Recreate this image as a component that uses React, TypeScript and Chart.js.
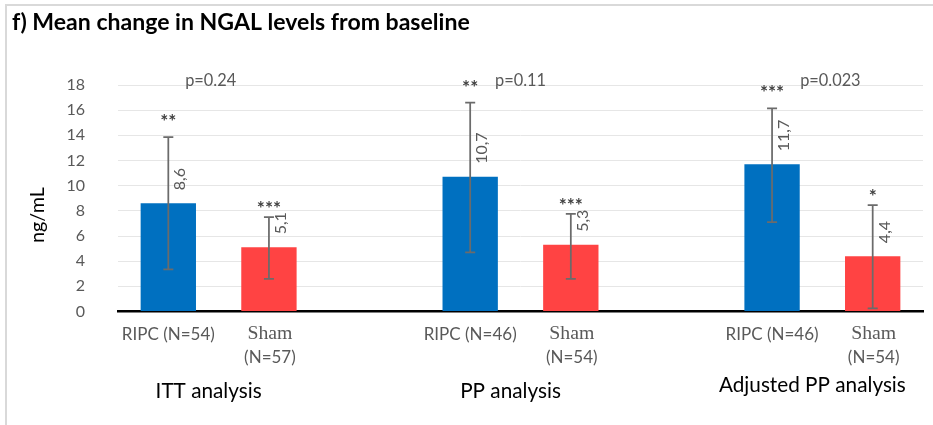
import React, { useEffect, useRef } from "react";
import { Chart, registerables } from "chart.js";

Chart.register(...registerables);

// ---------- data ----------
const titleText = "f) Mean change in NGAL levels from baseline";
const yAxisTitle = "ng/mL";
const groups = ["ITT analysis", "PP analysis", "Adjusted PP analysis"];
const armNames = ["RIPC", "Sham"];
const ripcN = [54, 46, 46];
const shamN = [57, 54, 54];
const ripcMeans = [8.6, 10.7, 11.7];
const shamMeans = [5.1, 5.3, 4.4];
const ripcErrLow = [3.35, 4.7, 7.1];
const ripcErrHigh = [13.85, 16.6, 16.15];
const shamErrLow = [2.6, 2.6, 0.25];
const shamErrHigh = [7.5, 7.75, 8.45];
const ripcStars = ["**", "**", "***"];
const shamStars = ["***", "***", "*"];
const pValues = ["p=0.24", "p=0.11", "p=0.023"];
const yMin = 0;
const yMax = 18;
const yStep = 2;

// ---------- styles ----------
const BLUE = "#0070C0";
const RED = "#FF4343";
const GRAY = "#595959";
const SANS = "Lato, 'Open Sans', sans-serif";
const SERIF = "'Liberation Serif', 'DejaVu Serif', serif";

type Slot = { label: string; value: number | null; lo: number | null; hi: number | null; star: string; arm: number; group: number; n: number };

function buildSlots(): Slot[] {
  const slots: Slot[] = [];
  groups.forEach((_, g) => {
    slots.push({ label: armNames[0] + g, value: ripcMeans[g], lo: ripcErrLow[g], hi: ripcErrHigh[g], star: ripcStars[g], arm: 0, group: g, n: ripcN[g] });
    slots.push({ label: armNames[1] + g, value: shamMeans[g], lo: shamErrLow[g], hi: shamErrHigh[g], star: shamStars[g], arm: 1, group: g, n: shamN[g] });
    if (g < groups.length - 1) slots.push({ label: "gap" + g, value: null, lo: null, hi: null, star: "", arm: -1, group: g, n: 0 });
  });
  return slots;
}

function fitSize(ctx: CanvasRenderingContext2D, text: string, weight: string, family: string, target: number): number {
  ctx.font = `${weight} 20px ${family}`;
  const w = ctx.measureText(text).width;
  return (20 * target) / w;
}

export default function App() {
  const ref = useRef<HTMLCanvasElement | null>(null);

  useEffect(() => {
    const canvas = ref.current;
    if (!canvas) return;
    const slots = buildSlots();

    const overlay = {
      id: "overlay",
      beforeDraw(chart: any) {
        const ctx: CanvasRenderingContext2D = chart.ctx;
        ctx.save();
        ctx.fillStyle = "#ffffff";
        ctx.fillRect(0, 0, chart.width, chart.height);
        ctx.strokeStyle = "#d9d9d9";
        ctx.lineWidth = 2;
        ctx.beginPath();
        ctx.moveTo(6, chart.height);
        ctx.lineTo(6, 5);
        ctx.lineTo(chart.width, 5);
        ctx.stroke();
        ctx.restore();
      },
      afterDatasetsDraw(chart: any) {
        const ctx: CanvasRenderingContext2D = chart.ctx;
        const ys = chart.scales.y;
        const meta = chart.getDatasetMeta(0);
        ctx.save();
        slots.forEach((s, i) => {
          if (s.value == null) return;
          const bar = meta.data[i];
          const x = bar.x;
          const yHi = ys.getPixelForValue(s.hi as number);
          const yLo = ys.getPixelForValue(s.lo as number);
          // error bar
          ctx.strokeStyle = "#6b6b6b";
          ctx.lineWidth = 1.75;
          ctx.beginPath();
          ctx.moveTo(x, yHi);
          ctx.lineTo(x, yLo);
          ctx.moveTo(x - 5, yHi);
          ctx.lineTo(x + 5, yHi);
          ctx.moveTo(x - 5, yLo);
          ctx.lineTo(x + 5, yLo);
          ctx.stroke();
          // value label, rotated
          const yTop = ys.getPixelForValue(s.value);
          ctx.save();
          ctx.translate(x + 12, yTop - 13);
          ctx.rotate(-Math.PI / 2);
          ctx.fillStyle = GRAY;
          ctx.font = `16px ${SANS}`;
          ctx.textAlign = "left";
          ctx.textBaseline = "middle";
          ctx.fillText(s.value.toFixed(1).replace(".", ","), 0, 0);
          ctx.restore();
          // stars
          ctx.fillStyle = "#404040";
          ctx.font = `bold 19px ${SANS}`;
          ctx.textAlign = "center";
          ctx.textBaseline = "middle";
          ctx.fillText(s.star, x, yHi - (s.arm === 0 ? 15 : 8));
        });
        ctx.restore();
      },
      afterDraw(chart: any) {
        const ctx: CanvasRenderingContext2D = chart.ctx;
        const meta = chart.getDatasetMeta(0);
        ctx.save();
        // title
        const ts = fitSize(ctx, titleText, "bold", SANS, 458);
        ctx.font = `bold ${ts}px ${SANS}`;
        ctx.fillStyle = "#000000";
        ctx.textAlign = "left";
        ctx.textBaseline = "alphabetic";
        ctx.fillText(titleText, 12, 30);
        // y axis title
        const yts = fitSize(ctx, yAxisTitle, "normal", SANS, 56);
        ctx.save();
        ctx.translate(38, 215);
        ctx.rotate(-Math.PI / 2);
        ctx.font = `${yts}px ${SANS}`;
        ctx.textAlign = "center";
        ctx.textBaseline = "middle";
        ctx.fillText(yAxisTitle, 0, 0);
        ctx.restore();

        const armSize = fitSize(ctx, "RIPC (N=54)", "normal", SANS, 93);
        const shamSize = fitSize(ctx, "Sham", "normal", SERIF, 45);
        const grpSize = fitSize(ctx, "Adjusted PP analysis", "normal", SANS, 187);
        const pSize = fitSize(ctx, "p=0.24", "normal", SANS, 51);

        groups.forEach((gName, g) => {
          const idxR = slots.findIndex((s) => s.group === g && s.arm === 0);
          const idxS = slots.findIndex((s) => s.group === g && s.arm === 1);
          const xR = meta.data[idxR].x;
          const xS = meta.data[idxS].x;
          const xc = (xR + xS) / 2;
          ctx.textAlign = "center";
          ctx.textBaseline = "middle";
          // RIPC label
          ctx.fillStyle = GRAY;
          ctx.font = `${armSize}px ${SANS}`;
          ctx.fillText(`${armNames[0]} (N=${slots[idxR].n})`, xR, 335);
          // Sham label
          ctx.font = `${shamSize}px ${SERIF}`;
          ctx.fillText(armNames[1], xS + 1, 334);
          ctx.font = `${armSize}px ${SANS}`;
          ctx.fillText(`(N=${slots[idxS].n})`, xS + 1, 358);
          // group label
          ctx.fillStyle = "#000000";
          ctx.font = `${grpSize}px ${SANS}`;
          ctx.fillText(gName, xc - 10, g === groups.length - 1 ? 385 : 391);
          // p value
          ctx.fillStyle = GRAY;
          ctx.font = `${pSize}px ${SANS}`;
          ctx.fillText(pValues[g], xc + (g - 1) * 8, 81);
        });
        ctx.restore();
      },
    };

    const chart = new Chart(canvas, {
      type: "bar",
      data: {
        labels: slots.map((s) => s.label),
        datasets: [
          {
            data: slots.map((s) => s.value),
            backgroundColor: slots.map((s) => (s.arm === 0 ? BLUE : RED)),
            barPercentage: 0.55,
            categoryPercentage: 1,
            borderWidth: 0,
          },
        ],
      },
      options: {
        responsive: false,
        animation: false,
        devicePixelRatio: 1,
        layout: { padding: { left: 0, top: 85, right: 10, bottom: 0 } },
        plugins: { legend: { display: false }, tooltip: { enabled: false }, title: { display: false } },
        scales: {
          x: {
            afterFit: (scale: any) => {
              scale.height = 113.5;
            },
            ticks: { display: false },
            grid: { display: false },
            border: { display: true, color: "#000000", width: 2.5 },
          },
          y: {
            min: yMin,
            max: yMax,
            afterFit: (scale: any) => {
              scale.width = 118;
            },
            ticks: { stepSize: yStep, color: GRAY, font: { size: 16, family: SANS }, padding: 33 },
            grid: { color: "#e6e6e6", lineWidth: 1, drawTicks: false },
            border: { display: false },
          },
        },
      },
      plugins: [overlay],
    });
    return () => chart.destroy();
  }, []);

  return (
    <div style={{ position: "fixed", left: 0, top: 0, width: 933, height: 425, background: "#fff" }}>
      <canvas ref={ref} width={933} height={425} style={{ width: 933, height: 425, display: "block" }} />
    </div>
  );
}
